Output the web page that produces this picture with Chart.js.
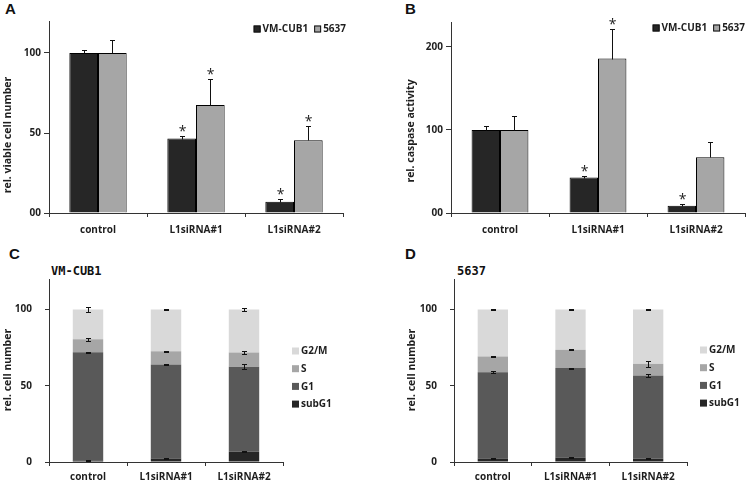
<!DOCTYPE html>
<html>
<head>
    <title>L1 siRNA panels</title>
    <script src="https://cdn.jsdelivr.net/npm/chart.js"></script>
    <style>
        body { margin: 0; background: #fff; }
        #wrap { position: relative; width: 749px; height: 483px; background: #fff; overflow: hidden; }
        #wrap canvas { position: absolute; }
        .letter { position: absolute; font: bold 15px "Liberation Sans", Arial, sans-serif; line-height: 15px; color: #111; }
        .sub { position: absolute; font: bold 12px "DejaVu Sans Mono", monospace; line-height: 12px; color: #111; }
    </style>
</head>
<body>
<div id="wrap">
    <div class="letter" style="left:5px;top:1px">A</div>
    <div class="letter" style="left:405px;top:1px">B</div>
    <div class="letter" style="left:9px;top:246px">C</div>
    <div class="letter" style="left:405px;top:246px">D</div>
    <div class="sub" style="left:51px;top:265px">VM-CUB1</div>
    <div class="sub" style="left:457px;top:265px">5637</div>
    <canvas id="chartA" width="375" height="240" style="left:0;top:0"></canvas>
    <canvas id="chartB" width="374" height="240" style="left:375px;top:0"></canvas>
    <canvas id="chartC" width="375" height="243" style="left:0;top:240px"></canvas>
    <canvas id="chartD" width="374" height="243" style="left:375px;top:240px"></canvas>
</div>

<script>
    const categories = ['control', 'L1siRNA#1', 'L1siRNA#2'];

    // A - viable cell number
    const viableVM = [100, 46.5, 7];
    const viableVMErr = [2, 1.5, 2];
    const viableVMSig = [false, true, true];
    const viable5637 = [100, 67.5, 45.5];
    const viable5637Err = [8, 16, 9];
    const viable5637Sig = [false, true, true];
    const yTicksA = [0, 50, 100];
    const yLabelsA = ['00', '50', '100'];

    // B - caspase activity
    const caspVM = [100, 42.7, 8.8];
    const caspVMErr = [5, 2, 2];
    const caspVMSig = [false, true, true];
    const casp5637 = [100, 186, 67];
    const casp5637Err = [17, 36, 19];
    const casp5637Sig = [false, true, false];
    const yTicksB = [0, 100, 200];
    const yLabelsB = ['00', '100', '200'];

    // C - cell cycle VM-CUB1
    const vmSubG1 = [1, 2.3, 6.7];
    const vmG1 = [71, 61.7, 55.8];
    const vmS = [8.5, 8.6, 9.3];
    const vmG2M = [19.5, 27.4, 28.2];
    const vmSubG1Err = [0.3, 0.3, 0.4];
    const vmG1Err = [0.3, 0.3, 1.5];
    const vmSErr = [0.9, 0.3, 0.7];
    const vmG2MErr = [1.5, 0.3, 0.8];

    // D - cell cycle 5637
    const c5637SubG1 = [2.3, 2.8, 2.1];
    const c5637G1 = [56.5, 58.8, 54.7];
    const c5637S = [10.4, 11.9, 7.6];
    const c5637G2M = [30.8, 26.5, 35.6];
    const c5637SubG1Err = [0.5, 0.3, 0.2];
    const c5637G1Err = [0.6, 0.3, 1.2];
    const c5637SErr = [0.3, 0.3, 1.8];
    const c5637G2MErr = [0.3, 0.6, 0.4];

    const yTicksCD = [0, 50, 100];
    const yLabelsCD = ['0', '50', '100'];

    const FONT = '"Open Sans", "Liberation Sans", sans-serif';
    const INK = '#1e1e1e';
    const AXIS = '#333';

    Chart.defaults.font.family = FONT;
    Chart.defaults.color = INK;

    // error bars, asterisks, legend, axis title
    function decor(opt) {
        return {
            id: 'decor',
            afterDatasetsDraw(chart) {
                const ctx = chart.ctx;
                const ys = chart.scales.y;
                ctx.save();
                ctx.strokeStyle = '#111';
                ctx.lineWidth = 1;
                chart.data.datasets.forEach((ds, di) => {
                    const meta = chart.getDatasetMeta(di);
                    meta.data.forEach((bar, i) => {
                        let top = ds.data[i];
                        if (opt.stacked) {
                            for (let k = 0; k < di; k++) top += chart.data.datasets[k].data[i];
                        }
                        const err = ds.errors[i];
                        const x = Math.round(bar.x) + 0.5;
                        const yHi = Math.round(ys.getPixelForValue(top + err)) + 0.5;
                        const yLo = Math.round(ys.getPixelForValue(opt.stacked ? top - err : top)) + 0.5;
                        ctx.beginPath();
                        ctx.moveTo(x, yLo); ctx.lineTo(x, yHi);
                        ctx.moveTo(x - 2.5, yHi); ctx.lineTo(x + 2.5, yHi);
                        if (opt.stacked) { ctx.moveTo(x - 2.5, yLo); ctx.lineTo(x + 2.5, yLo); }
                        ctx.stroke();
                        if (ds.sig && ds.sig[i]) {
                            ctx.fillStyle = INK;
                            ctx.font = '14px ' + FONT;
                            ctx.textAlign = 'center';
                            ctx.textBaseline = 'alphabetic';
                            ctx.fillText('*', x, yHi - 1);
                        }
                    });
                });

                // legend
                const lg = opt.legend;
                let items = chart.data.datasets.map(d => d);
                if (lg.reverse) items = items.slice().reverse();
                ctx.font = 'bold 10px ' + FONT;
                ctx.textAlign = 'left';
                ctx.textBaseline = 'middle';
                let lx = lg.x, ly = lg.y;
                if (lg.dir === 'h') {
                    // right-aligned row
                    const w = items.reduce((a, d) => a + 9 + ctx.measureText(d.label).width, 0) + 6 * (items.length - 1);
                    lx = lg.right - w;
                }
                items.forEach(d => {
                    ctx.fillStyle = d.backgroundColor;
                    ctx.fillRect(lx, ly - 3.5, 7, 7);
                    if (lg.boxed) {
                        ctx.strokeStyle = '#111';
                        ctx.strokeRect(lx + 0.5, ly - 3, 6, 6);
                    }
                    ctx.fillStyle = INK;
                    ctx.fillText(d.label, lx + 9, ly + 0.5);
                    if (lg.dir === 'h') lx += 9 + ctx.measureText(d.label).width + 6;
                    else ly += lg.step;
                });

                // y axis title
                ctx.save();
                ctx.translate(opt.yTitle.x, opt.yTitle.y);
                ctx.rotate(-Math.PI / 2);
                ctx.font = 'bold 10.5px ' + FONT;
                ctx.textAlign = 'center';
                ctx.textBaseline = 'middle';
                ctx.fillStyle = INK;
                ctx.fillText(opt.yTitle.text, 0, 0);
                ctx.restore();
                ctx.restore();
            }
        };
    }

    function axes(o) {
        return {
            x: {
                stacked: !!o.stacked,
                grid: { offset: true, drawOnChartArea: false, tickLength: 4, color: AXIS },
                border: { color: AXIS, width: 1 },
                ticks: { font: { size: 10, weight: 'bold' }, color: INK, padding: o.xPad, maxRotation: 0 },
                afterFit: s => { s.height = o.xHeight; }
            },
            y: {
                stacked: !!o.stacked,
                min: 0,
                max: o.max,
                afterBuildTicks: s => { s.ticks = o.ticks.map(v => ({ value: v })); },
                grid: { drawOnChartArea: false, tickLength: o.tickLen, color: AXIS },
                border: { color: AXIS, width: 1 },
                ticks: {
                    font: { size: 10, weight: 'bold' },
                    color: INK,
                    padding: o.yPad,
                    callback: (v, i) => o.labels[i]
                },
                afterFit: s => { s.width = o.yWidth; }
            }
        };
    }

    const base = {
        responsive: false,
        animation: false,
        events: [],
        plugins: { legend: { display: false }, tooltip: { enabled: false }, title: { display: false } }
    };

    new Chart(document.getElementById('chartA'), {
        type: 'bar',
        data: {
            labels: categories,
            datasets: [
                { label: 'VM-CUB1', data: viableVM, errors: viableVMErr, sig: viableVMSig,
                  backgroundColor: '#262626', borderColor: '#000', borderWidth: 1,
                  categoryPercentage: 0.585, barPercentage: 1 },
                { label: '5637', data: viable5637, errors: viable5637Err, sig: viable5637Sig,
                  backgroundColor: '#a6a6a6', borderColor: '#000', borderWidth: 1,
                  categoryPercentage: 0.585, barPercentage: 1 }
            ]
        },
        options: Object.assign({}, base, {
            layout: { padding: { top: 21, right: 32, left: 0, bottom: 0 } },
            scales: axes({ max: 120, ticks: yTicksA, labels: yLabelsA, yWidth: 49, xHeight: 27,
                           tickLen: 5, yPad: 3, xPad: 7 })
        }),
        plugins: [decor({
            stacked: false,
            legend: { dir: 'h', right: 346, y: 29, boxed: true },
            yTitle: { text: 'rel. viable cell number', x: 8, y: 135 }
        })]
    });

    new Chart(document.getElementById('chartB'), {
        type: 'bar',
        data: {
            labels: categories,
            datasets: [
                { label: 'VM-CUB1', data: caspVM, errors: caspVMErr, sig: caspVMSig,
                  backgroundColor: '#262626', borderColor: '#000', borderWidth: 1,
                  categoryPercentage: 0.58, barPercentage: 1 },
                { label: '5637', data: casp5637, errors: casp5637Err, sig: casp5637Sig,
                  backgroundColor: '#a6a6a6', borderColor: '#000', borderWidth: 1,
                  categoryPercentage: 0.58, barPercentage: 1 }
            ]
        },
        options: Object.assign({}, base, {
            layout: { padding: { top: 22, right: 4, left: 0, bottom: 0 } },
            scales: axes({ max: 230, ticks: yTicksB, labels: yLabelsB, yWidth: 76, xHeight: 27,
                           tickLen: 5, yPad: 3, xPad: 7 })
        }),
        plugins: [decor({
            stacked: false,
            legend: { dir: 'h', right: 370, y: 28, boxed: true },
            yTitle: { text: 'rel. caspase activity', x: 36, y: 131 }
        })]
    });

    function stackedSets(sub, g1, s, g2m, errs) {
        return [
            { label: 'subG1', data: sub, errors: errs[0], backgroundColor: '#262626' },
            { label: 'G1', data: g1, errors: errs[1], backgroundColor: '#595959' },
            { label: 'S', data: s, errors: errs[2], backgroundColor: '#a6a6a6' },
            { label: 'G2/M', data: g2m, errors: errs[3], backgroundColor: '#d9d9d9' }
        ].map(d => Object.assign(d, { borderWidth: 0, categoryPercentage: 1, barPercentage: 0.39 }));
    }

    new Chart(document.getElementById('chartC'), {
        type: 'bar',
        data: {
            labels: categories,
            datasets: stackedSets(vmSubG1, vmG1, vmS, vmG2M, [vmSubG1Err, vmG1Err, vmSErr, vmG2MErr])
        },
        options: Object.assign({}, base, {
            layout: { padding: { top: 39, right: 92, left: 0, bottom: 0 } },
            scales: axes({ stacked: true, max: 120, ticks: yTicksCD, labels: yLabelsCD, yWidth: 49,
                           xHeight: 21, tickLen: 4, yPad: 13, xPad: 5 })
        }),
        plugins: [decor({
            stacked: true,
            legend: { dir: 'v', x: 292, y: 111, step: 17.7, reverse: true, boxed: false },
            yTitle: { text: 'rel. cell number', x: 8, y: 130 }
        })]
    });

    new Chart(document.getElementById('chartD'), {
        type: 'bar',
        data: {
            labels: categories,
            datasets: stackedSets(c5637SubG1, c5637G1, c5637S, c5637G2M,
                                  [c5637SubG1Err, c5637G1Err, c5637SErr, c5637G2MErr])
        },
        options: Object.assign({}, base, {
            layout: { padding: { top: 39, right: 62, left: 0, bottom: 0 } },
            scales: axes({ stacked: true, max: 120, ticks: yTicksCD, labels: yLabelsCD, yWidth: 79,
                           xHeight: 21, tickLen: 4, yPad: 13, xPad: 5 })
        }),
        plugins: [decor({
            stacked: true,
            legend: { dir: 'v', x: 325, y: 110, step: 17.7, reverse: true, boxed: false },
            yTitle: { text: 'rel. cell number', x: 37, y: 130 }
        })]
    });
</script>
</body>
</html>
